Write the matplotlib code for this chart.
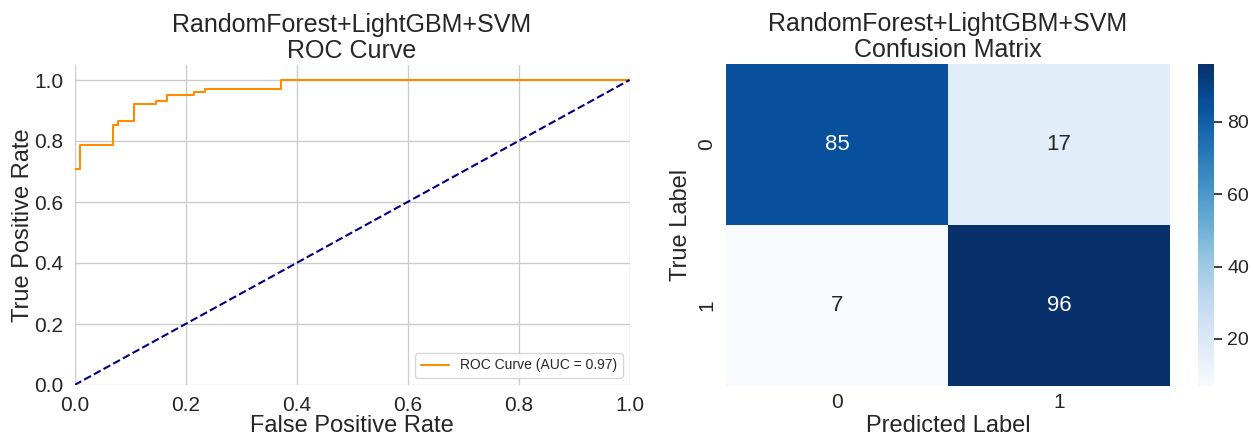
import numpy as np
import matplotlib.pyplot as plt
import seaborn as sns

model_name = "RandomForest+LightGBM+SVM"

# ROC curve points (102 negatives, 103 positives)
fpr = [0.0, 0.0098, 0.0098, 0.0686, 0.0686, 0.0784, 0.0784, 0.1078, 0.1078,
       0.1471, 0.1471, 0.1667, 0.1667, 0.2157, 0.2157, 0.2353, 0.2353, 0.3725, 0.3725, 1.0]
tpr = [0.709, 0.709, 0.786, 0.786, 0.854, 0.854, 0.864, 0.864, 0.922,
       0.922, 0.932, 0.932, 0.951, 0.951, 0.961, 0.961, 0.971, 0.971, 1.0, 1.0]
roc_auc = 0.97

conf_matrix = np.array([[85, 17],
                        [7, 96]])
class_labels = ["0", "1"]

sns.set_theme(style="whitegrid", font_scale=1.2)
plt.rcParams['font.family'] = ['Liberation Sans', 'DejaVu Sans']

fig = plt.figure(figsize=(12.53, 4.37), dpi=100)
W, H = 1253, 437

# ROC curve
ax1 = fig.add_axes([74.5 / W, 1 - 385 / H, 555 / W, 320.25 / H])
ax1.plot(fpr, tpr, color='darkorange', lw=1.5, label=f'ROC Curve (AUC = {roc_auc:.2f})')
ax1.plot([0, 1], [0, 1], color='navy', lw=1.5, linestyle='--')
ax1.set_xlim(0.0, 1.0)
ax1.set_ylim(0.0, 1.05)
ax1.set_xlabel('False Positive Rate', fontsize=17, labelpad=0)
ax1.set_ylabel('True Positive Rate', fontsize=17, labelpad=0)
ax1.set_title(f'{model_name}\nROC Curve', fontsize=18, linespacing=1.12, pad=5)
ax1.tick_params(labelsize=15, pad=2)
ax1.legend(loc='lower right', fontsize=10)
for s in ax1.spines.values():
    s.set_visible(False)

# Confusion matrix
ax2 = fig.add_axes([726 / W, 1 - 386 / H, 444 / W, 322 / H])
cax = fig.add_axes([1198 / W, 1 - 386 / H, 16 / W, 322 / H])
sns.heatmap(conf_matrix, annot=True, fmt='d', cmap='Blues', ax=ax2, cbar_ax=cax,
            xticklabels=class_labels, yticklabels=class_labels,
            annot_kws={'size': 16})
ax2.set_xlabel('Predicted Label', fontsize=17, labelpad=2)
ax2.set_ylabel('True Label', fontsize=17, labelpad=4)
ax2.set_title(f'{model_name}\nConfusion Matrix', fontsize=18, linespacing=1.12, pad=5)
ax2.tick_params(axis='x', labelsize=15, pad=-1)
ax2.tick_params(axis='y', labelsize=15, pad=1)
cax.tick_params(labelsize=14)

plt.savefig('out.png', dpi=100)
